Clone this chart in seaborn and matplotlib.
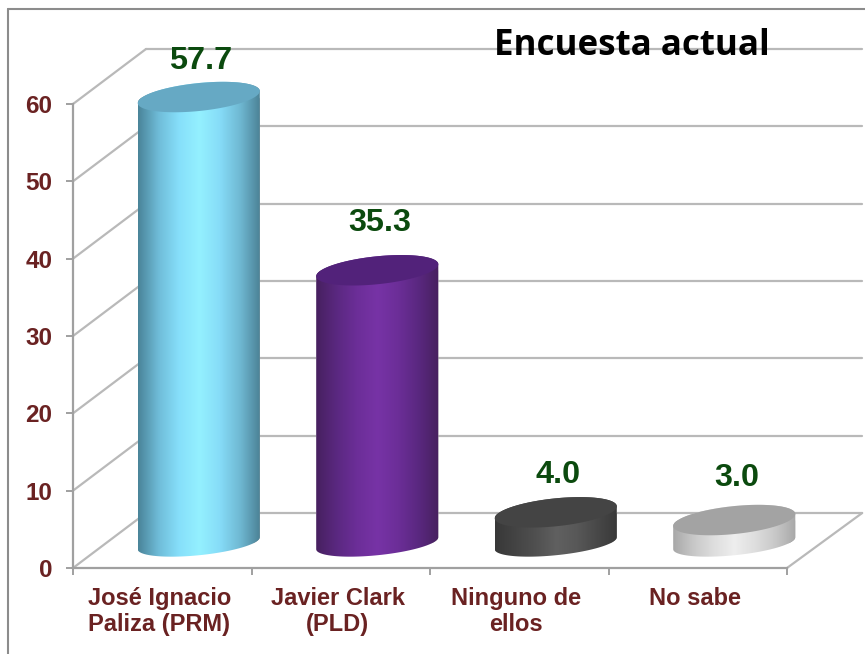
import numpy as np
import pandas as pd
import seaborn as sns
import matplotlib
matplotlib.use('Agg')
import matplotlib.pyplot as plt
from matplotlib.colors import LinearSegmentedColormap
from matplotlib.lines import Line2D
from matplotlib.patches import Polygon
from matplotlib.transforms import ScaledTranslation

categories = ['José Ignacio\nPaliza (PRM)', 'Javier Clark\n(PLD)', 'Ninguno de\nellos', 'No sabe']
values = [57.7, 35.3, 4.0, 3.0]
value_labels = ['57.7', '35.3', '4.0', '3.0']
y_ticks = [0, 10, 20, 30, 40, 50, 60]

side_colors = [
    ['#4a8499', '#6fbcd8', '#86dffa', '#94f0ff', '#86dcf8', '#6fb8d2', '#4a8094'],
    ['#47205f', '#5a2880', '#6c2e98', '#7733a6', '#6c2e98', '#5a2880', '#47205f'],
    ['#383838', '#444444', '#505050', '#606060', '#585858', '#484848', '#383838'],
    ['#a8a8a8', '#c8c8c8', '#dedede', '#eeeeee', '#dedede', '#c8c8c8', '#a8a8a8'],
]
top_colors = ['#66a9c4', '#52227a', '#444444', '#a3a3a3']
label_gap = [4.7, 6.1, 4.8, 5.4]  # gap above the cap, differs per bar in the original

GRID = '#b9b9b9'
AXIS = '#a0a0a0'
TICK_TEXT = '#6a2222'
VALUE_TEXT = '#0b4a0e'

sns.set_style('white')
plt.rcParams['font.family'] = ['Liberation Sans', 'DejaVu Sans']

W, H = 865, 654
fig = plt.figure(figsize=(W / 100, H / 100), dpi=100)
ax = fig.add_axes([73 / W, (H - 568) / H, (787 - 73) / W, (568 - 104) / H])

df = pd.DataFrame({'cat': categories, 'val': values})
sns.barplot(data=df, x='cat', y='val', width=0.684, color='#888888', ax=ax, zorder=2)
ax.set_xlim(-0.5, 3.5)
ax.set_ylim(0, 60)
ax.set_xlabel('')
ax.set_ylabel('')

# depth of the fake 3d box, in data units
depth_x = 73 / 178.5
depth_y = 55 / 7.733

# back wall + side wall lines
for t in y_ticks:
    ax.plot([-0.5, -0.5 + depth_x], [t, t + depth_y], color=GRID, lw=1.6, zorder=1, clip_on=False)
    ax.plot([-0.5 + depth_x, 3.5 + depth_x * 1.03], [t + depth_y, t + depth_y], color=GRID, lw=1.6, zorder=1, clip_on=False)
ax.plot([3.5, 3.5 + depth_x * 1.03], [0, depth_y], color=GRID, lw=1.6, zorder=1, clip_on=False)

# cylinders
b_top = 14 / 7.733
b_bot = 12 / 7.733
tilt = 6 / 7.733
t_up = np.linspace(0, np.pi, 60)
t_down = np.linspace(np.pi, 2 * np.pi, 60)
for i, bar in enumerate(ax.patches):
    x0 = bar.get_x() + depth_x / 2
    w = bar.get_width()
    h = bar.get_height()
    base = 3.2
    cx = x0 + w / 2
    top = base + h
    xs = np.r_[cx + w / 2 * np.cos(t_up), cx + w / 2 * np.cos(t_down)]
    ys = np.r_[top + tilt * np.cos(t_up) + b_top * np.sin(t_up),
               base + tilt * np.cos(t_down) + b_bot * np.sin(t_down)]
    body = Polygon(np.c_[xs, ys], closed=True, transform=ax.transData, fc='none', ec='none', clip_on=False)
    ax.add_patch(body)

    bar.set_x(x0)
    bar.set_y(base)
    bar.set_clip_path(body)
    bar.set_clip_box(fig.bbox)

    cmap = LinearSegmentedColormap.from_list('side%d' % i, side_colors[i])
    img = ax.imshow(np.linspace(0, 1, 256).reshape(1, -1), cmap=cmap, aspect='auto',
                    extent=[x0, x0 + w, base - 3, top + 3], zorder=3, interpolation='bilinear')
    img.set_clip_path(body)
    img.set_clip_box(fig.bbox)

    tt = np.linspace(0, 2 * np.pi, 120)
    cap = Polygon(np.c_[cx + w / 2 * np.cos(tt), top + tilt * np.cos(tt) + b_top * np.sin(tt)],
                  closed=True, fc=top_colors[i], ec='none', zorder=4, clip_on=False)
    ax.add_patch(cap)

    ax.text(cx + 0.012, top + label_gap[i], value_labels[i], ha='center', va='center', fontsize=23.3,
            fontweight='bold', color=VALUE_TEXT, zorder=5, clip_on=False)

ax.set_xlim(-0.5, 3.5)
ax.set_ylim(0, 60)

# axes
sns.despine(ax=ax, top=True, right=True)
for side in ['left', 'bottom']:
    ax.spines[side].set_color(AXIS)
    ax.spines[side].set_linewidth(1.6)
ax.set_yticks(y_ticks)
ax.set_xticks(range(len(categories)))
ax.set_xticklabels(categories)
ax.set_xticks(np.arange(-0.5, 4), minor=True)
ax.tick_params(axis='x', which='major', length=0, pad=14, labelsize=17, labelcolor=TICK_TEXT)
ax.tick_params(axis='x', which='minor', length=5, width=1.4, color=AXIS, bottom=True)
ax.tick_params(axis='y', length=5, width=1.4, color=AXIS, left=True, pad=10, labelsize=17.5, labelcolor=TICK_TEXT)
shift = ScaledTranslation(-3 / 100, 0, fig.dpi_scale_trans)
for lab in ax.get_xticklabels() + ax.get_yticklabels():
    lab.set_fontweight('bold')
for lab in ax.get_xticklabels():
    lab.set_linespacing(1.15)
    lab.set_transform(lab.get_transform() + shift)

# outer frame, only top and left
fig.add_artist(Line2D([8 / W, 8 / W], [0, 1 - 9 / H], color='#8c8c8c', lw=1.5))
fig.add_artist(Line2D([8 / W, 1], [1 - 9 / H, 1 - 9 / H], color='#8c8c8c', lw=1.5))

fig.text(632 / W, 1 - 46 / H, 'Encuesta actual', ha='center', va='center', fontsize=25.1,
         fontweight='bold', family=['Open Sans', 'DejaVu Sans'], color='black')

fig.savefig('out.png', dpi=100, facecolor='white')
